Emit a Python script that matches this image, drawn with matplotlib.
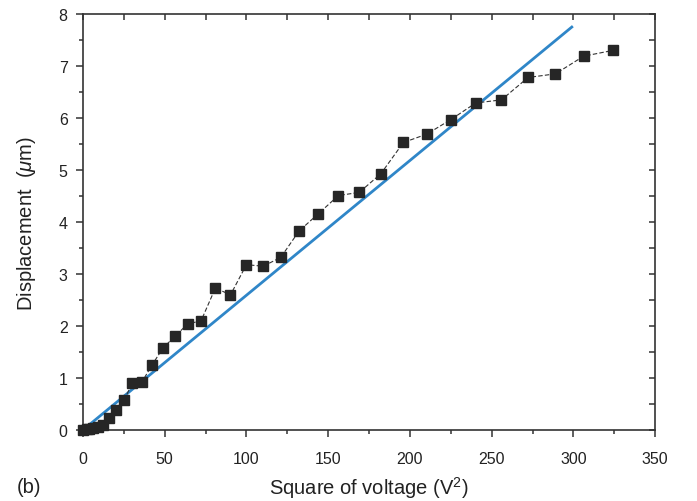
import numpy as np
import matplotlib.pyplot as plt
from matplotlib.ticker import MultipleLocator

plt.rcParams['font.family'] = ['Liberation Sans', 'DejaVu Sans']
plt.rcParams['mathtext.fontset'] = 'custom'
plt.rcParams['mathtext.it'] = 'Liberation Sans:italic'
plt.rcParams['mathtext.rm'] = 'Liberation Sans'

# measured points (square of voltage vs displacement)
volt_sq = [0, 2.25, 4, 6.25, 9, 12.25, 16, 20.25, 25, 30.25, 36, 42.25, 49, 56.25,
           64, 72.25, 81, 90.25, 100, 110.25, 121, 132.25, 144, 156.25, 169,
           182.25, 196, 210.25, 225, 240.25, 256, 272.25, 289, 306.25, 324]
displacement = [0, 0.01, 0.02, 0.04, 0.06, 0.1, 0.23, 0.38, 0.57, 0.9, 0.92, 1.25,
                1.58, 1.8, 2.04, 2.1, 2.73, 2.6, 3.18, 3.15, 3.32, 3.83, 4.16,
                4.51, 4.57, 4.93, 5.53, 5.69, 5.97, 6.29, 6.35, 6.78, 6.85, 7.19, 7.3]

# linear fit line endpoints
fit_x = [0, 299]
fit_y = [0, 7.75]

fig = plt.figure(figsize=(6.97, 5.02), dpi=100)
ax = fig.add_axes([0.119, 0.1414, 0.821, 0.8286])

ax.plot(fit_x, fit_y, color='#2f86c8', lw=2.0, zorder=2)
ax.plot(volt_sq, displacement, ls=(0, (4, 2)), color='#333333', lw=0.8,
        marker='s', ms=7.5, mfc='#262626', mec='#262626', zorder=3, clip_on=False)

ax.set_xlim(0, 350)
ax.set_ylim(0, 8)
ax.xaxis.set_major_locator(MultipleLocator(50))
ax.xaxis.set_minor_locator(MultipleLocator(25))
ax.yaxis.set_major_locator(MultipleLocator(1))
ax.yaxis.set_minor_locator(MultipleLocator(0.5))

for s in ax.spines.values():
    s.set_color('#333333')
    s.set_linewidth(1.2)

ax.tick_params(which='both', direction='out', colors='#333333', labelcolor='#222222',
               labelsize=11.5, width=1.1)
ax.tick_params(which='major', length=5)
ax.tick_params(which='minor', length=3)
ax.tick_params(axis='x', which='major', pad=10)
ax.tick_params(axis='y', which='major', pad=6)

# inward ticks on top and right
ax_top = ax.secondary_xaxis('top')
ax_top.xaxis.set_major_locator(MultipleLocator(25))
ax_top.tick_params(direction='in', length=4, width=1.1, colors='#333333', labeltop=False)
ax_top.spines['top'].set_visible(False)
ax_right = ax.secondary_yaxis('right')
ax_right.yaxis.set_major_locator(MultipleLocator(0.5))
ax_right.tick_params(direction='in', length=4, width=1.1, colors='#333333', labelright=False)
ax_right.spines['right'].set_visible(False)

ax.set_xlabel('Square of voltage (V$^2$)', fontsize=14.5, color='#222222')
ax.set_ylabel(r'Displacement  ($\mu$m)', fontsize=14.5, color='#222222')
ax.xaxis.set_label_coords(0.5, -0.106)
ax.yaxis.set_label_coords(-0.079, 0.5)
fig.text(0.024, 0.018, '(b)', fontsize=14.5, color='#222222', va='baseline')

fig.savefig('out.png', dpi=100)
